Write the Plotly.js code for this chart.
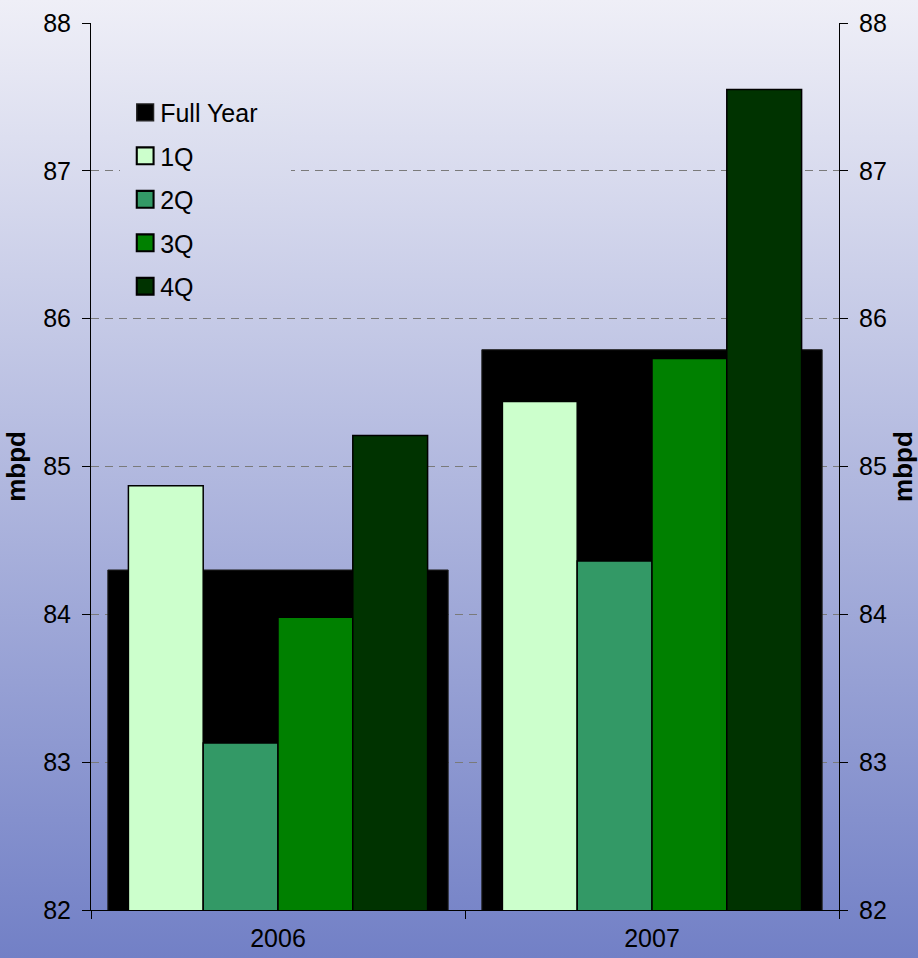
<!DOCTYPE html>
<html>
<head>
<meta charset="utf-8">
<script src="https://cdn.plot.ly/plotly-3.0.1.min.js"></script>
<style>
  html, body { margin: 0; padding: 0; width: 918px; height: 958px; overflow: hidden; }
  body { background: linear-gradient(to bottom, #EFEFF7 0px, #7280C6 958px); }
  #chart { width: 918px; height: 958px; }
</style>
</head>
<body>
<div id="chart"></div>
<script>
// ---- data ----
const years = ['2006', '2007'];
const fullYear = [84.30, 85.79];
const q1 = [84.87, 85.44];
const q2 = [83.13, 84.36];
const q3 = [83.98, 85.73];
const q4 = [85.21, 87.55];
const seriesNames = ['Full Year', '1Q', '2Q', '3Q', '4Q'];
const yTickVals = [82, 83, 84, 85, 86, 87, 88];
const yTickText = ['82', '83', '84', '85', '86', '87', '88'];
const yTitle = 'mbpd';

const FONT = '"Liberation Sans", Arial, sans-serif';
const colors = ['#000000', '#CCFFCC', '#339966', '#008000', '#003300'];
const quarterSeries = [q1, q2, q3, q4];
const qOffsets = [-0.4, -0.2, 0, 0.2];

const data = [{
  type: 'bar', name: seriesNames[0], x: years, y: fullYear,
  width: 0.91, xaxis: 'x', yaxis: 'y', legendgroup: 'g0',
  marker: { color: colors[0], line: { color: '#222222', width: 1 } },
  hoverinfo: 'x+y+name'
}];
quarterSeries.forEach((vals, i) => {
  data.push({
    type: 'bar', name: seriesNames[i + 1], x: years, y: vals,
    width: 0.2, offset: qOffsets[i], xaxis: 'x', yaxis: 'y2', legendgroup: 'g' + (i + 1),
    marker: { color: colors[i + 1], line: { color: '#000000', width: 1.5 } },
    hoverinfo: 'x+y+name'
  });
});

const yCommon = {
  range: [82, 88], tickvals: yTickVals, ticktext: yTickText,
  ticks: 'outside', ticklen: 8, tickcolor: '#000', tickwidth: 1,
  showline: true, linecolor: '#000', linewidth: 1,
  tickfont: { family: FONT, size: 25, color: '#000' },
  ticklabelstandoff: 6,
  zeroline: false, fixedrange: true,
  title: { text: yTitle, font: { family: FONT, size: 26, color: '#000', weight: 'bold' }, standoff: 10 }
};

const layout = {
  width: 918, height: 958,
  paper_bgcolor: 'rgba(0,0,0,0)', plot_bgcolor: 'rgba(0,0,0,0)',
  margin: { l: 91, r: 79, t: 23, b: 48 },
  barmode: 'overlay',
  showlegend: true,
  font: { family: FONT, size: 25, color: '#000' },
  legend: {
    x: 0.039, y: 0.925, xanchor: 'left', yanchor: 'top',
    bgcolor: '#D8DAEE', borderwidth: 0,
    font: { family: FONT, size: 25, color: '#000' },
    tracegroupgap: 8, traceorder: 'grouped'
  },
  xaxis: {
    type: 'category', tickson: 'boundaries',
    ticks: 'outside', ticklen: 8, tickcolor: '#000',
    showline: true, linecolor: '#000', linewidth: 1,
    showgrid: false, zeroline: false, fixedrange: true,
    ticklabelstandoff: 6,
    tickfont: { family: FONT, size: 25, color: '#000' }
  },
  yaxis: Object.assign({}, yCommon, {
    side: 'left', showgrid: true, gridcolor: '#7a7a7a', gridwidth: 1, griddash: '8px,6px'
  }),
  yaxis2: Object.assign({}, yCommon, {
    side: 'right', overlaying: 'y', showgrid: false
  })
};

Plotly.newPlot('chart', data, layout, { staticPlot: true, displayModeBar: false }).then(gd => {
  // larger legend swatches, closer to the text
  gd.querySelectorAll('.legend .legendpoints path').forEach(p => {
    const t = p.getAttribute('transform') || '';
    p.setAttribute('transform', t + ' translate(5,0) scale(1.4)');
  });
  // give the legend box the same vertical gradient as the page background
  const bg = gd.querySelector('.legend rect.bg');
  if (!bg) return;
  const w = parseFloat(bg.getAttribute('width')) || 0;
  bg.setAttribute('width', String(w + 28));
  const r = bg.getBoundingClientRect();
  const c0 = [0xEF, 0xEF, 0xF7], c1 = [0x72, 0x80, 0xC6], H = 958;
  const at = y => {
    const t = Math.max(0, Math.min(1, y / H));
    return 'rgb(' + c0.map((v, k) => Math.round(v + (c1[k] - v) * t)).join(',') + ')';
  };
  const svg = gd.querySelector('svg.main-svg');
  const ns = 'http://www.w3.org/2000/svg';
  let defs = svg.querySelector('defs');
  if (!defs) { defs = document.createElementNS(ns, 'defs'); svg.insertBefore(defs, svg.firstChild); }
  const lg = document.createElementNS(ns, 'linearGradient');
  lg.setAttribute('id', 'legendGrad');
  lg.setAttribute('x1', '0'); lg.setAttribute('y1', '0');
  lg.setAttribute('x2', '0'); lg.setAttribute('y2', '1');
  [[0, at(r.top)], [1, at(r.bottom)]].forEach(([o, c]) => {
    const s = document.createElementNS(ns, 'stop');
    s.setAttribute('offset', String(o));
    s.setAttribute('stop-color', c);
    lg.appendChild(s);
  });
  defs.appendChild(lg);
  bg.style.fill = 'url(#legendGrad)';
});
</script>
</body>
</html>
